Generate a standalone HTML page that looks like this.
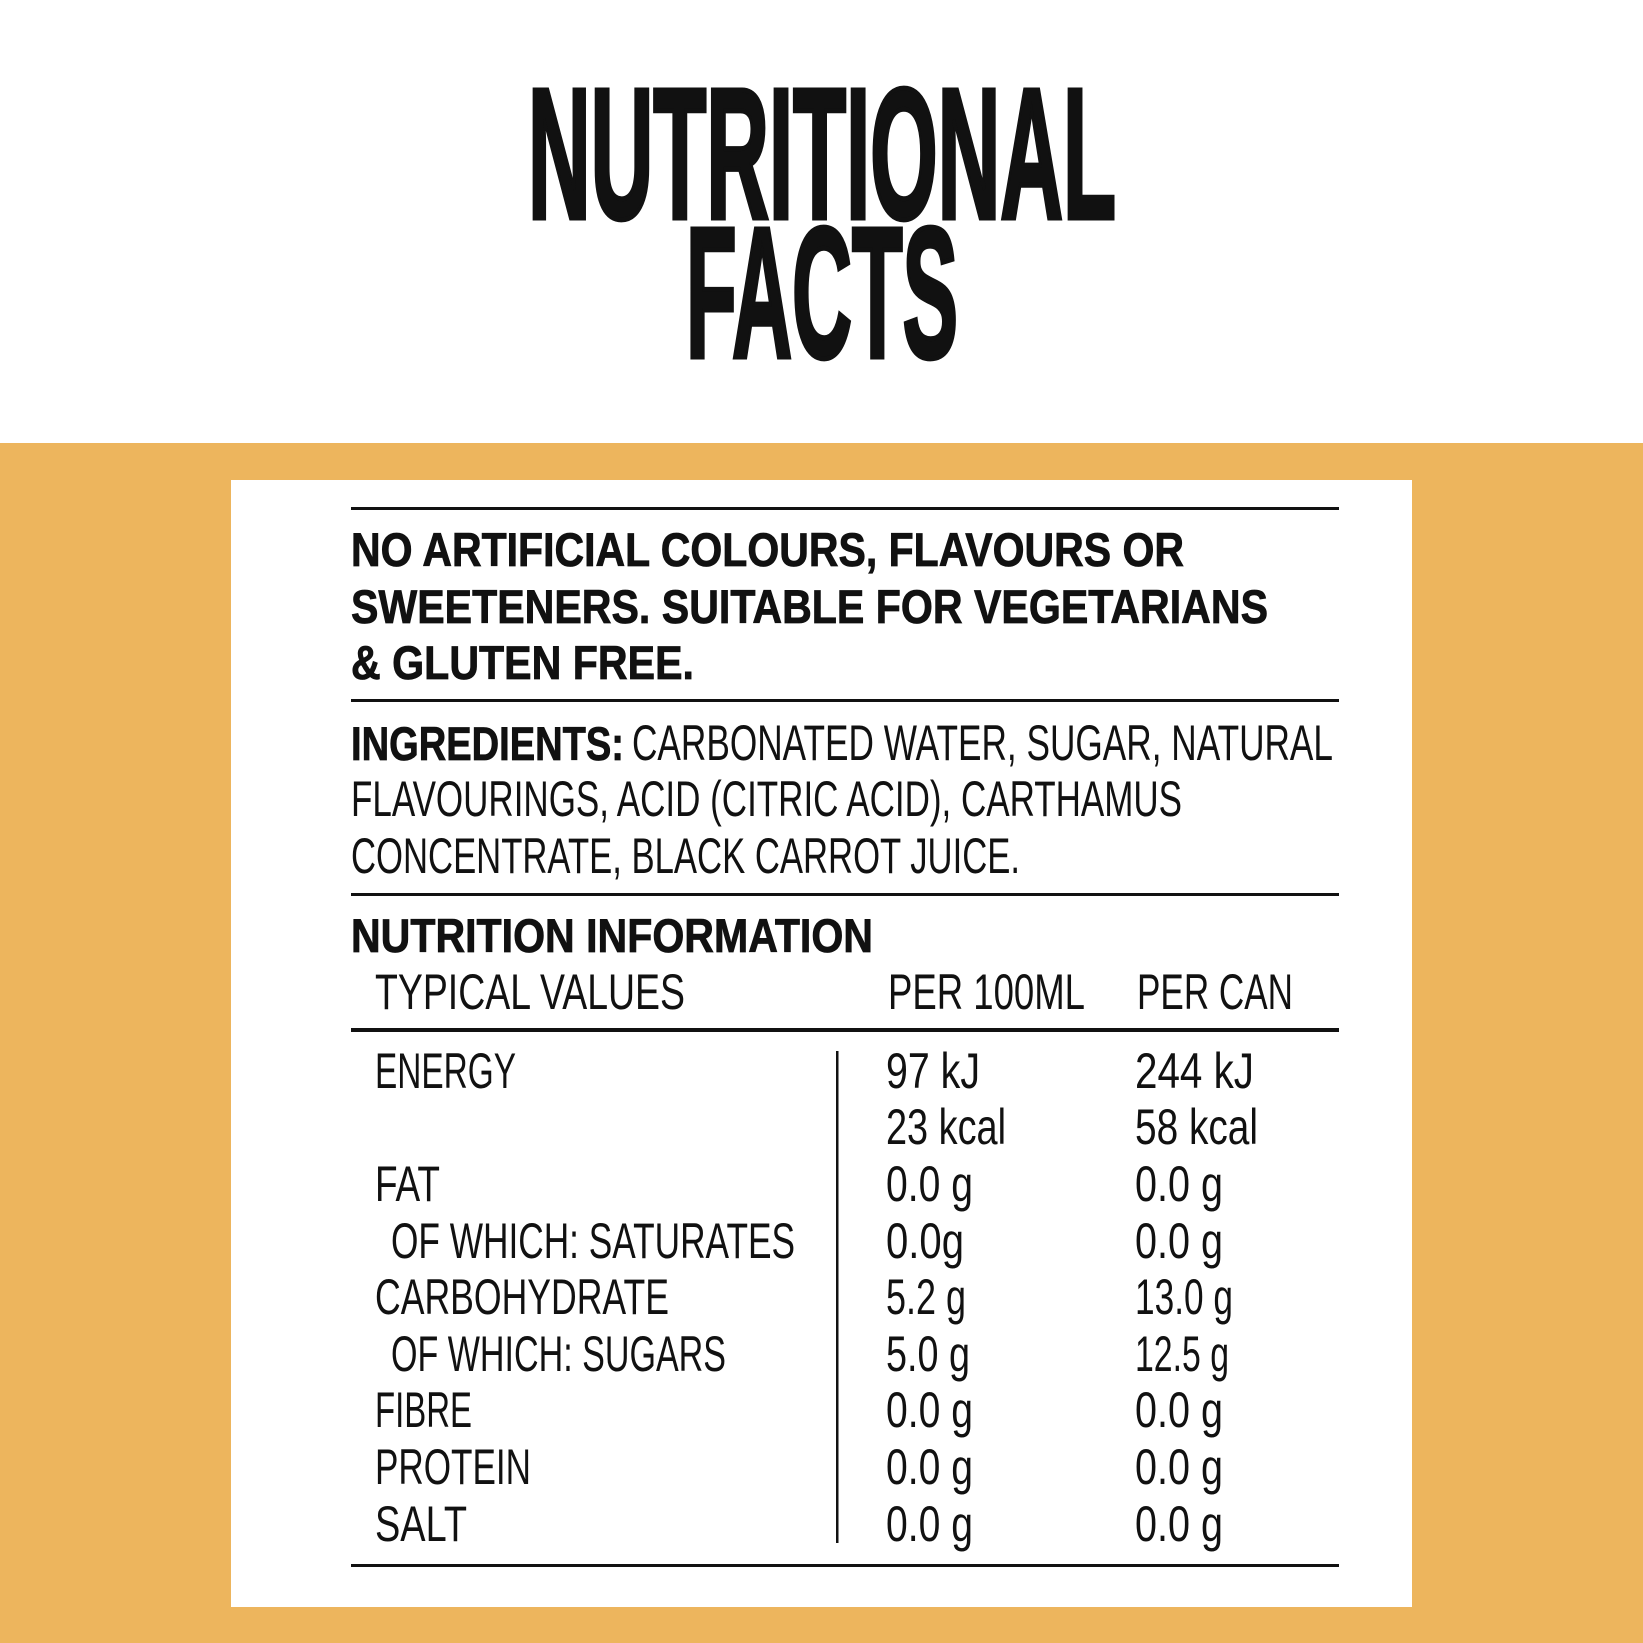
<!DOCTYPE html>
<html><head><style>html,body{margin:0;padding:0;background:#fff}svg{display:block}</style></head>
<body>
<svg width="1643" height="1643" viewBox="0 0 1643 1643" xmlns="http://www.w3.org/2000/svg" font-family="Liberation Sans, sans-serif" fill="#111">
<rect x="0" y="0" width="1643" height="1643" fill="#fff"/>
<rect x="0" y="443" width="1643" height="1200" fill="#EDB55D"/>
<rect x="231" y="480" width="1181" height="1127" fill="#fff"/>
<g font-weight="bold" stroke="#111" stroke-width="5" stroke-linejoin="miter">
<text x="528" y="218" font-size="186" textLength="588" lengthAdjust="spacingAndGlyphs">NUTRITIONAL</text>
<text x="686" y="357" font-size="186" textLength="272" lengthAdjust="spacingAndGlyphs">FACTS</text>
</g>
<g fill="#111">
<rect x="351" y="507" width="988" height="3"/>
<rect x="351" y="699" width="988" height="3"/>
<rect x="351" y="893" width="988" height="3"/>
<rect x="351" y="1028" width="988" height="4"/>
<rect x="351" y="1564" width="988" height="3"/>
<rect x="836" y="1051" width="2.5" height="492"/>
</g>
<g font-weight="bold" font-size="47" stroke="#111" stroke-width="0.8">
<text x="351" y="566" textLength="833" lengthAdjust="spacingAndGlyphs">NO ARTIFICIAL COLOURS, FLAVOURS OR</text>
<text x="351" y="623" textLength="917" lengthAdjust="spacingAndGlyphs">SWEETENERS. SUITABLE FOR VEGETARIANS</text>
<text x="351" y="679" textLength="343" lengthAdjust="spacingAndGlyphs">&amp; GLUTEN FREE.</text>
<text x="351" y="760" textLength="273" lengthAdjust="spacingAndGlyphs">INGREDIENTS:</text>
<text x="351" y="952" textLength="522" lengthAdjust="spacingAndGlyphs">NUTRITION INFORMATION</text>
</g>
<g font-size="50">
<text x="632" y="760" textLength="701" lengthAdjust="spacingAndGlyphs">CARBONATED WATER, SUGAR, NATURAL</text>
<text x="351" y="816" textLength="831" lengthAdjust="spacingAndGlyphs">FLAVOURINGS, ACID (CITRIC ACID), CARTHAMUS</text>
<text x="351" y="873" textLength="669" lengthAdjust="spacingAndGlyphs">CONCENTRATE, BLACK CARROT JUICE.</text>
<text x="375" y="1009" textLength="310" lengthAdjust="spacingAndGlyphs">TYPICAL VALUES</text>
<text x="888" y="1009" textLength="197" lengthAdjust="spacingAndGlyphs">PER 100ML</text>
<text x="1137" y="1009" textLength="156" lengthAdjust="spacingAndGlyphs">PER CAN</text>

<text x="375" y="1088" textLength="141" lengthAdjust="spacingAndGlyphs">ENERGY</text>
<text x="886" y="1088" textLength="94" lengthAdjust="spacingAndGlyphs">97 kJ</text>
<text x="1135" y="1088" textLength="119" lengthAdjust="spacingAndGlyphs">244 kJ</text>
<text x="886" y="1144" textLength="120" lengthAdjust="spacingAndGlyphs">23 kcal</text>
<text x="1135" y="1144" textLength="123" lengthAdjust="spacingAndGlyphs">58 kcal</text>

<text x="375" y="1201" textLength="65" lengthAdjust="spacingAndGlyphs">FAT</text>
<text x="886" y="1201" textLength="87" lengthAdjust="spacingAndGlyphs">0.0 g</text>
<text x="1135" y="1201" textLength="88" lengthAdjust="spacingAndGlyphs">0.0 g</text>

<text x="391" y="1258" textLength="404" lengthAdjust="spacingAndGlyphs">OF WHICH: SATURATES</text>
<text x="886" y="1258" textLength="78" lengthAdjust="spacingAndGlyphs">0.0g</text>
<text x="1135" y="1258" textLength="88" lengthAdjust="spacingAndGlyphs">0.0 g</text>

<text x="375" y="1314" textLength="294" lengthAdjust="spacingAndGlyphs">CARBOHYDRATE</text>
<text x="886" y="1314" textLength="80" lengthAdjust="spacingAndGlyphs">5.2 g</text>
<text x="1135" y="1314" textLength="98" lengthAdjust="spacingAndGlyphs">13.0 g</text>

<text x="391" y="1371" textLength="335" lengthAdjust="spacingAndGlyphs">OF WHICH: SUGARS</text>
<text x="886" y="1371" textLength="84" lengthAdjust="spacingAndGlyphs">5.0 g</text>
<text x="1135" y="1371" textLength="94" lengthAdjust="spacingAndGlyphs">12.5 g</text>

<text x="375" y="1427" textLength="97" lengthAdjust="spacingAndGlyphs">FIBRE</text>
<text x="886" y="1427" textLength="87" lengthAdjust="spacingAndGlyphs">0.0 g</text>
<text x="1135" y="1427" textLength="88" lengthAdjust="spacingAndGlyphs">0.0 g</text>

<text x="375" y="1484" textLength="156" lengthAdjust="spacingAndGlyphs">PROTEIN</text>
<text x="886" y="1484" textLength="87" lengthAdjust="spacingAndGlyphs">0.0 g</text>
<text x="1135" y="1484" textLength="88" lengthAdjust="spacingAndGlyphs">0.0 g</text>

<text x="375" y="1541" textLength="92" lengthAdjust="spacingAndGlyphs">SALT</text>
<text x="886" y="1541" textLength="87" lengthAdjust="spacingAndGlyphs">0.0 g</text>
<text x="1135" y="1541" textLength="88" lengthAdjust="spacingAndGlyphs">0.0 g</text>
</g>
</svg>
</body></html>
